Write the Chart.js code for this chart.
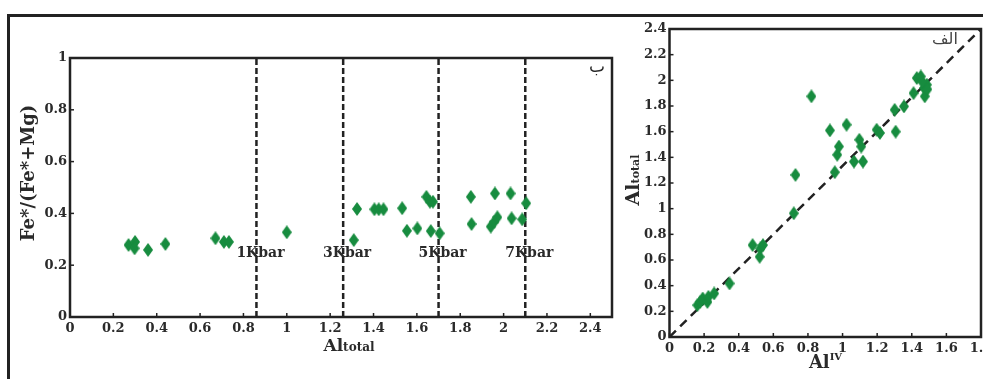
<!DOCTYPE html>
<html>
<head>
<meta charset="utf-8">
<script src="https://cdn.jsdelivr.net/npm/chart.js@4.4.1/dist/chart.umd.min.js"></script>
<style>
html, body { margin: 0; padding: 0; background: #fff; overflow: hidden; width: 983px; height: 379px; }
.frame { position: absolute; left: 7px; top: 14px; width: 1100px; height: 500px; border-top: 3px solid #222; border-left: 3px solid #222; }
#leftBox { position: absolute; left: 10px; top: 20px; width: 620px; height: 359px; }
#rightBox { position: absolute; left: 620px; top: 0; width: 390px; height: 379px; }
</style>
</head>
<body>
<div class="frame"></div>
<div id="leftBox"><canvas id="pressureChart"></canvas></div>
<div id="rightBox"><canvas id="alChart"></canvas></div>
<script>
// left panel (ب): Fe*/(Fe*+Mg) against Al total
const leftAl = [0.27, 0.30, 0.298, 0.36, 0.44, 0.671, 0.71, 0.733, 1.0, 1.309, 1.324, 1.404, 1.424, 1.446, 1.532,
  1.554, 1.602, 1.644, 1.66, 1.674, 1.664, 1.705, 1.849, 1.852, 1.941, 1.957, 1.971, 1.96, 2.032, 2.037, 2.086, 2.104];
const leftFe = [0.278, 0.29, 0.265, 0.259, 0.282, 0.304, 0.29, 0.29, 0.327, 0.297, 0.417, 0.416, 0.416, 0.416, 0.42,
  0.333, 0.342, 0.464, 0.445, 0.445, 0.332, 0.323, 0.464, 0.359, 0.349, 0.368, 0.385, 0.477, 0.477, 0.381, 0.377, 0.439];
const pressureLines = [0.86, 1.26, 1.70, 2.10];
const pressureLabels = ['1Kbar', '3Kbar', '5Kbar', '7Kbar'];
const leftXTicks = [0, 0.2, 0.4, 0.6, 0.8, 1, 1.2, 1.4, 1.6, 1.8, 2, 2.2, 2.4];
const leftYTicks = [0, 0.2, 0.4, 0.6, 0.8, 1];

// right panel (الف): Al total against Al IV
const alIV = [0.161, 0.177, 0.192, 0.219, 0.225, 0.258, 0.347, 0.48, 0.525, 0.521, 0.54, 0.718, 0.728, 0.82, 0.927,
  0.955, 0.969, 0.979, 1.023, 1.066, 1.097, 1.108, 1.118, 1.197, 1.216, 1.301, 1.307, 1.355, 1.41, 1.429, 1.452,
  1.471, 1.475, 1.487, 1.46, 1.49];
const alTotal = [0.248, 0.273, 0.3, 0.273, 0.313, 0.339, 0.417, 0.716, 0.69, 0.625, 0.716, 0.964, 1.263, 1.875, 1.61,
  1.284, 1.42, 1.484, 1.654, 1.367, 1.537, 1.484, 1.367, 1.615, 1.59, 1.77, 1.6, 1.797, 1.9, 2.018, 2.03,
  1.94, 1.875, 1.966, 1.99, 1.93];
const diagX = [0, 1.8];
const diagY = [0, 2.4];
const rightXTicks = [0, 0.2, 0.4, 0.6, 0.8, 1, 1.2, 1.4, 1.6, 1.8];
const rightYTicks = [0, 0.2, 0.4, 0.6, 0.8, 1, 1.2, 1.4, 1.6, 1.8, 2, 2.2, 2.4];

const green = '#178c3f';
const ink = '#222';
const textInk = '#2a2a2a';
const serif = '"DejaVu Serif", "Liberation Serif", serif';

function diamond(w, h, color) {
  const c = document.createElement('canvas');
  c.width = w; c.height = h;
  const g = c.getContext('2d');
  g.fillStyle = color;
  g.beginPath();
  g.moveTo(w / 2, 0); g.lineTo(w, h / 2); g.lineTo(w / 2, h); g.lineTo(0, h / 2);
  g.closePath();
  g.fill();
  return c;
}
const marker = diamond(10, 14, green);

// text made of pieces with different sizes (subscripts etc.)
function drawParts(ctx, parts, cx, cy, rotate) {
  ctx.save();
  ctx.translate(cx, cy);
  if (rotate) ctx.rotate(-Math.PI / 2);
  let total = 0;
  parts.forEach(p => { ctx.font = p.font; p.w = ctx.measureText(p.text).width; total += p.w; });
  let x = -total / 2;
  ctx.fillStyle = textInk;
  ctx.textBaseline = 'alphabetic';
  ctx.textAlign = 'left';
  parts.forEach(p => { ctx.font = p.font; ctx.fillText(p.text, x, p.dy || 0); x += p.w; });
  ctx.restore();
}

// box around the plot and small inward tick marks
const boxPlugin = {
  id: 'box',
  afterDatasetsDraw(chart) {
    const { ctx, chartArea: a, scales } = chart;
    ctx.save();
    ctx.strokeStyle = ink;
    ctx.lineWidth = 1.5;
    scales.x.ticks.forEach(t => {
      const px = scales.x.getPixelForValue(t.value);
      ctx.beginPath(); ctx.moveTo(px, a.bottom); ctx.lineTo(px, a.bottom - 4); ctx.stroke();
    });
    scales.y.ticks.forEach(t => {
      const py = scales.y.getPixelForValue(t.value);
      ctx.beginPath(); ctx.moveTo(a.left, py); ctx.lineTo(a.left + 4, py); ctx.stroke();
    });
    ctx.lineWidth = 2.5;
    ctx.strokeRect(a.left, a.top, a.right - a.left, a.bottom - a.top);
    ctx.restore();
  }
};

const tickFont = { family: serif, size: 13, weight: 'bold' };

function axis(min, max, list, fit, key) {
  return {
    type: 'linear', min: min, max: max,
    afterBuildTicks: s => { s.ticks = list.map(v => ({ value: v })); },
    afterFit: s => { s[key] = fit; },
    grid: { display: false, drawTicks: false },
    border: { display: false },
    ticks: { padding: key === 'height' ? 4 : 3, font: tickFont, color: textInk, autoSkip: false, maxRotation: 0,
      callback: v => String(v) }
  };
}

const leftText = {
  id: 'leftText',
  afterDatasetsDraw(chart) {
    const { ctx, chartArea: a, scales } = chart;
    ctx.save();
    ctx.fillStyle = textInk;
    ctx.font = 'bold 14px ' + serif;
    ctx.textAlign = 'center';
    ctx.textBaseline = 'middle';
    pressureLines.forEach((v, i) => {
      ctx.fillText(pressureLabels[i], scales.x.getPixelForValue(v) + 4, scales.y.getPixelForValue(0.245));
    });
    ctx.font = '17px "DejaVu Sans", sans-serif';
    ctx.fillText('ب', a.right - 15, a.top + 10);
    ctx.restore();
    drawParts(ctx, [{ text: 'Fe*/(Fe*+Mg)', font: 'bold 18px ' + serif }], a.left - 36, a.top + 115, true);
    drawParts(ctx, [{ text: 'Al', font: 'bold 17px ' + serif }, { text: 'total', font: 'bold 12px ' + serif }],
      a.left + 279, a.bottom + 34, false);
  }
};

new Chart(document.getElementById('pressureChart'), {
  type: 'scatter',
  data: {
    datasets: [
      { data: leftAl.map((x, i) => ({ x: x, y: leftFe[i] })), pointStyle: marker, pointRadius: 7 },
      ...pressureLines.map(v => ({
        type: 'line', data: [{ x: v, y: 0 }, { x: v, y: 1 }], borderColor: ink, borderWidth: 2.5,
        borderDash: [6, 3], pointRadius: 0, fill: false
      }))
    ]
  },
  options: {
    responsive: true, maintainAspectRatio: false, animation: false,
    layout: { padding: { top: 38, right: 18, left: 0, bottom: 0 } },
    plugins: { legend: { display: false }, tooltip: { enabled: false } },
    scales: {
      x: axis(0, 2.5, leftXTicks, 62, 'height'),
      y: axis(0, 1, leftYTicks, 60, 'width')
    }
  },
  plugins: [boxPlugin, leftText]
});

const rightText = {
  id: 'rightText',
  afterDatasetsDraw(chart) {
    const { ctx, chartArea: a } = chart;
    ctx.save();
    ctx.fillStyle = '#444';
    ctx.font = '16px "DejaVu Sans", sans-serif';
    ctx.textAlign = 'center';
    ctx.textBaseline = 'middle';
    ctx.fillText('الف', a.right - 36, a.top + 11);
    ctx.restore();
    drawParts(ctx, [{ text: 'Al', font: 'bold 19px ' + serif }, { text: 'total', font: 'bold 11px ' + serif }],
      a.left - 31, a.top + 151, true);
    drawParts(ctx, [{ text: 'Al', font: 'bold 18px ' + serif }, { text: 'IV', font: 'bold 10px ' + serif, dy: -8 }],
      a.left + 156, a.bottom + 31, false);
  }
};

new Chart(document.getElementById('alChart'), {
  type: 'scatter',
  data: {
    datasets: [
      { data: alIV.map((x, i) => ({ x: x, y: alTotal[i] })), pointStyle: marker, pointRadius: 7 },
      {
        type: 'line', data: diagX.map((x, i) => ({ x: x, y: diagY[i] })), borderColor: ink, borderWidth: 2.5,
        borderDash: [9, 6], pointRadius: 0, fill: false
      }
    ]
  },
  options: {
    responsive: true, maintainAspectRatio: false, animation: false,
    layout: { padding: { top: 29, right: 29, left: 0, bottom: 0 } },
    plugins: { legend: { display: false }, tooltip: { enabled: false } },
    scales: {
      x: axis(0, 1.8, rightXTicks, 42, 'height'),
      y: axis(0, 2.4, rightYTicks, 49.5, 'width')
    }
  },
  plugins: [boxPlugin, rightText]
});
</script>
</body>
</html>
